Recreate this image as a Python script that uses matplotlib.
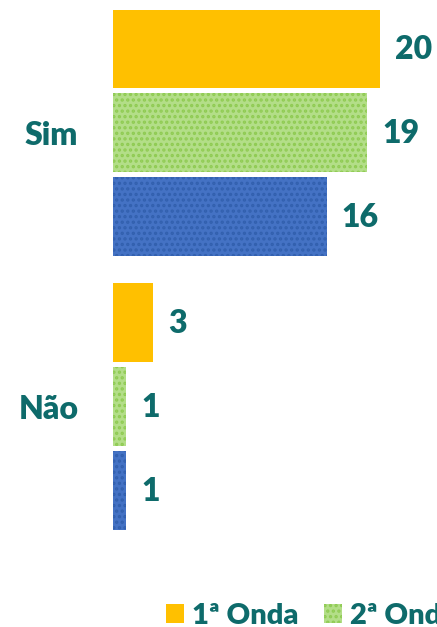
import matplotlib
matplotlib.use("Agg")
import matplotlib.pyplot as plt
from matplotlib.patches import Patch

categories = ["Sim", "Não"]
series_names = ["1ª Onda", "2ª Onda", "3ª Onda"]
onda1 = [20, 3]
onda2 = [19, 1]
onda3 = [16, 1]

TEAL = "#0E6B6B"
WEIGHT = "heavy"
plt.rcParams['font.family'] = ['Lato', 'DejaVu Sans']
plt.rcParams['hatch.linewidth'] = 1.6

fig = plt.figure(figsize=(4.37, 6.27), dpi=100)
ax = fig.add_axes([113/437, 1 - 530/627, 320.4/437, 520/627])

styles = [
    dict(color="#FFC000", hatch=None, edge="#FFC000"),
    dict(color="#B3DE88", hatch="...", edge="#8FCB52"),
    dict(color="#4472C4", hatch="...", edge="#3260AE"),
]
bar_h = 0.288
step = 0.3066
for i, (vals, st) in enumerate(zip([onda1, onda2, onda3], styles)):
    ys = [k + (i - 1) * step for k in range(len(categories))]
    bars = ax.barh(ys, vals, height=bar_h, color=st["color"], edgecolor=st["edge"],
                   hatch=st["hatch"], linewidth=0)
    for b, v in zip(bars, vals):
        ax.annotate(str(v), (b.get_width(), b.get_y() + b.get_height() / 2),
                    xytext=(11, -1), textcoords="offset points", ha="left", va="center",
                    fontsize=23, fontweight=WEIGHT, color=TEAL)

ax.set_xlim(0, 24)
ax.set_ylim(1.4507, -0.4471)
ax.set_yticks(range(len(categories)))
ax.set_yticklabels(categories, fontsize=23, fontweight=WEIGHT, color=TEAL)
ax.tick_params(axis="y", length=0, pad=25)
ax.set_xticks([])
for s in ax.spines.values():
    s.set_visible(False)

handles = [Patch(facecolor=st["color"], edgecolor=st["edge"], hatch=st["hatch"], linewidth=0)
           for st in styles]
fig.legend(handles, series_names, loc="center left", bbox_to_anchor=(166/437, 1 - 616/627),
           ncol=3, frameon=False, prop=dict(family=['Lato', 'DejaVu Sans'], weight=WEIGHT, size=21),
           labelcolor=TEAL, handlelength=0.62, handleheight=0.62, handletextpad=0.28,
           columnspacing=0.86, borderaxespad=0, borderpad=0)

fig.savefig("out.png", dpi=100)
